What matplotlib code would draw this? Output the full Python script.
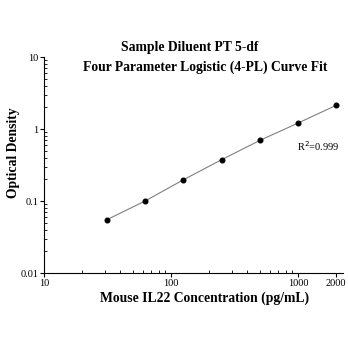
import matplotlib
matplotlib.use('Agg')
import matplotlib.pyplot as plt
from matplotlib.ticker import FixedLocator, NullFormatter, LogLocator

plt.rcParams['font.family'] = ['Liberation Serif', 'DejaVu Serif']

# standard curve data
conc = [31.25, 62.5, 125, 250, 500, 1000, 2000]
od = [0.055, 0.100, 0.197, 0.375, 0.695, 1.21, 2.14]
xticks = [10, 100, 1000, 2000]
xticklabels = ['10', '100', '1000', '2000']
yticks = [0.01, 0.1, 1, 10]
yticklabels = ['0.01', '0.1', '1', '10']

fig = plt.figure(figsize=(3.48, 3.48), dpi=100)
ax = fig.add_axes([0.1264, 0.2155, 0.8592, 0.6205])

ax.plot(conc, od, color='#808080', lw=0.8, zorder=1)
ax.scatter(conc, od, s=11, color='black', zorder=2)

ax.set_xscale('log')
ax.set_yscale('log')
ax.set_xlim(10, 2260)
ax.set_ylim(0.01, 10)

ax.xaxis.set_major_locator(FixedLocator(xticks))
ax.set_xticklabels(xticklabels)
ax.xaxis.set_minor_locator(LogLocator(base=10, subs=range(2, 10)))
ax.xaxis.set_minor_formatter(NullFormatter())
ax.yaxis.set_major_locator(FixedLocator(yticks))
ax.set_yticklabels(yticklabels)
ax.yaxis.set_minor_locator(LogLocator(base=10, subs=range(2, 10)))
ax.yaxis.set_minor_formatter(NullFormatter())

ax.tick_params(which='major', direction='out', length=3, width=0.8, labelsize=7.5, pad=1)
ax.tick_params(which='minor', direction='in', length=2.5, width=0.6)

for s in ['top', 'right']:
    ax.spines[s].set_visible(False)
for s in ['left', 'bottom']:
    ax.spines[s].set_linewidth(0.8)

ax.text(0.99, 0.59, 'R$^2$=0.999', transform=ax.transAxes, ha='right', va='center', fontsize=7.5)

fig.text(190/348, 1 - 48/348, 'Sample Diluent PT 5-df', ha='center', va='center',
         fontsize=9.8, fontweight='bold')
fig.text(205/348, 1 - 67/348, 'Four Parameter Logistic (4-PL) Curve Fit', ha='center', va='center',
         fontsize=9.8, fontweight='bold')
fig.text(205/348, 1 - 298/348, 'Mouse IL22 Concentration (pg/mL)', ha='center', va='center',
         fontsize=9.8, fontweight='bold')
fig.text(13/348, 1 - 153/348, 'Optical Density', ha='center', va='center', rotation=90,
         fontsize=9.8, fontweight='bold')

fig.savefig('out.png', dpi=100)
